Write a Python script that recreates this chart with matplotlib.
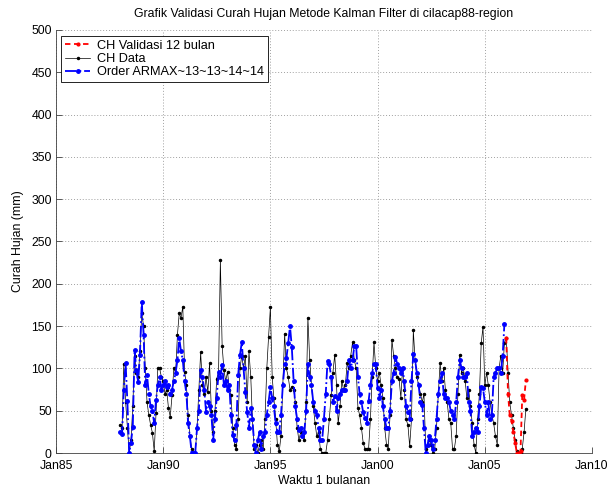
import numpy as np
import pandas as pd
import matplotlib
matplotlib.use("Agg")
import matplotlib.pyplot as plt
import matplotlib.dates as mdates

# ---------------- data ----------------
start_month = "1988-01"
ch_data = [
    33, 30, 105, 60, 30, 0, 15, 55, 115, 95,
    90, 120, 165, 150, 100, 60, 45, 33, 24, 2,
    47, 100, 100, 90, 85, 70, 75, 53, 43, 68,
    100, 95, 140, 165, 160, 173, 96, 80, 45, 20,
    5, 0, 0, 30, 75, 119, 80, 70, 90, 72,
    106, 50, 25, 50, 88, 95, 228, 127, 98, 85,
    96, 75, 68, 30, 10, 5, 40, 100, 115, 100,
    115, 60, 120, 90, 40, 5, 10, 0, 10, 15,
    5, 40, 100, 137, 172, 90, 65, 40, 10, 2,
    20, 80, 141, 100, 90, 75, 78, 75, 60, 30,
    15, 25, 20, 15,
    60, 160, 110, 80, 55, 35, 20, 25, 5, 0,
    0, 0, 15, 40, 68, 95, 116, 80, 35, 55,
    85, 75, 80, 106, 100, 115, 131, 110, 100, 53,
    45, 30, 12, 5, 5, 5, 40, 90, 131, 100,
    85, 95, 80, 65, 30, 10, 5, 45, 134, 115,
    100, 90, 88, 65, 100, 75, 40, 33, 8, 40,
    145, 110, 90, 80, 70, 60, 70, 5, 10, 15,
    10, 0, 5,
    30, 70, 106, 85, 101, 75, 60, 40, 35, 5,
    5, 20, 70, 116, 95, 100, 85, 65, 75, 55,
    35, 10, 0, 40, 70, 130, 149, 80, 95, 80,
    60, 45, 35, 20, 10, 100, 115, 95, 130,
    136, 95, 60, 45, 30, 15, 2, 0, 0, 5, 25, 52,
]
armax = [
    25, 22, 75, 106, 61, 0, 12, 31, 122, 98,
    84, 116, 179, 140, 80, 92, 70, 55, 50, 35,
    63, 80, 90, 75, 80, 85, 78, 80, 70, 75,
    85, 95, 110, 136, 120, 110, 85, 70, 35, 20,
    0, 0, 0, 30, 50, 98, 90, 75, 49, 60,
    55, 45, 15, 40, 65, 96, 90, 104, 80, 85,
    75, 80, 45, 21, 15, 33, 92, 116, 131, 100,
    72, 49, 30, 53, 40, 10, 0, 15, 25, 5,
    20, 25, 45, 60, 78, 65, 55, 35, 25, 25,
    45, 80, 105, 112, 130, 150, 125, 85, 55, 40,
    27, 30, 20, 25,
    50, 105, 90, 80, 60, 50, 45, 30, 15, 15,
    40, 70, 109, 105, 90, 60, 67, 50, 65, 70,
    75, 75, 75, 85, 110, 100, 110, 126, 127, 90,
    70, 60, 48, 41, 35, 61, 80, 95, 105, 105,
    77, 65, 75, 55, 40, 30, 30, 50, 85, 95,
    114, 105, 100, 95, 100, 85, 55, 49, 40, 85,
    117, 110, 95, 80, 60, 57, 30, 0, 10, 20,
    15, 5, 15,
    40, 70, 85, 95, 70, 65, 65, 60, 50, 45,
    40, 60, 90, 110, 100, 90, 90, 95, 60, 50,
    20, 25, 30, 25, 55, 78, 77, 60, 45, 60,
    40, 45, 90, 95, 100, 100, 95, 115, 153,
]
validasi = [136, 70, 45, 38, 25, 12, 0, 0, 2, 68, 63, 86]

labels = ["CH Validasi 12 bulan", "CH Data", "Order ARMAX~13~13~14~14"]
title = "Grafik Validasi Curah Hujan Metode Kalman Filter di cilacap88-region"
xlabel = "Waktu 1 bulanan"
ylabel = "Curah Hujan (mm)"
yticks = list(range(0, 501, 50))
xtick_years = [1985, 1990, 1995, 2000, 2005, 2010]

# ---------------- plot ----------------
plt.rcParams['font.family'] = ['Liberation Sans', 'DejaVu Sans']
fs = 8.8

dates_all = pd.date_range(start=start_month, periods=len(ch_data), freq="MS")
dates_armax = dates_all[:len(armax)]
dates_val = dates_all[-len(validasi):]

fig = plt.figure(figsize=(6.11, 4.87), dpi=100)
ax = fig.add_axes([56/611, 34/487, 536/611, 423/487])

l_val, = ax.plot(dates_val, validasi, color='red', linestyle='--', linewidth=1.3,
                 marker='.', markersize=4, zorder=5, dashes=(3, 2))
l_dat, = ax.plot(dates_all, ch_data, color='black', linestyle='-', linewidth=0.5,
                 marker='.', markersize=3, zorder=3)
l_arm, = ax.plot(dates_armax, armax, color='blue', linestyle='-.', linewidth=1.3,
                 marker='o', markersize=2.5, markerfacecolor='blue',
                 markeredgecolor='blue', zorder=4)

ax.set_xlim(pd.Timestamp("1985-01-01"), pd.Timestamp("2010-01-01"))
ax.set_ylim(0, 500)
ax.set_yticks(yticks)
ax.set_xticks([pd.Timestamp(f"{y}-01-01") for y in xtick_years])
ax.xaxis.set_major_formatter(mdates.DateFormatter("%b%y"))

ax.grid(True, color='#a0a0a0', linestyle=(0, (1, 2)), linewidth=0.7)
ax.set_axisbelow(True)
for s in ['top', 'right']:
    ax.spines[s].set_visible(False)
for s in ['left', 'bottom']:
    ax.spines[s].set_linewidth(0.6)
    ax.spines[s].set_color('#404040')
ax.tick_params(direction='in', length=4, width=0.6, labelsize=fs, colors='#404040',
               labelcolor='black')
ax.tick_params(axis='x', pad=5)
ax.tick_params(axis='y', pad=3)

ax.set_title(title, fontsize=fs, pad=9)
ax.set_xlabel(xlabel, fontsize=fs, labelpad=2)
ax.set_ylabel(ylabel, fontsize=fs, labelpad=5)

leg = ax.legend([l_val, l_dat, l_arm], labels, loc='upper left',
                bbox_to_anchor=(5/536, 1 - 6/423), borderaxespad=0,
                fontsize=9.2, frameon=True, fancybox=False, framealpha=1,
                edgecolor='black', handlelength=2.0, handletextpad=0.5,
                labelspacing=0.1, borderpad=0.3)
leg.get_frame().set_linewidth(0.6)

fig.savefig("out.png", dpi=100, facecolor='white')
